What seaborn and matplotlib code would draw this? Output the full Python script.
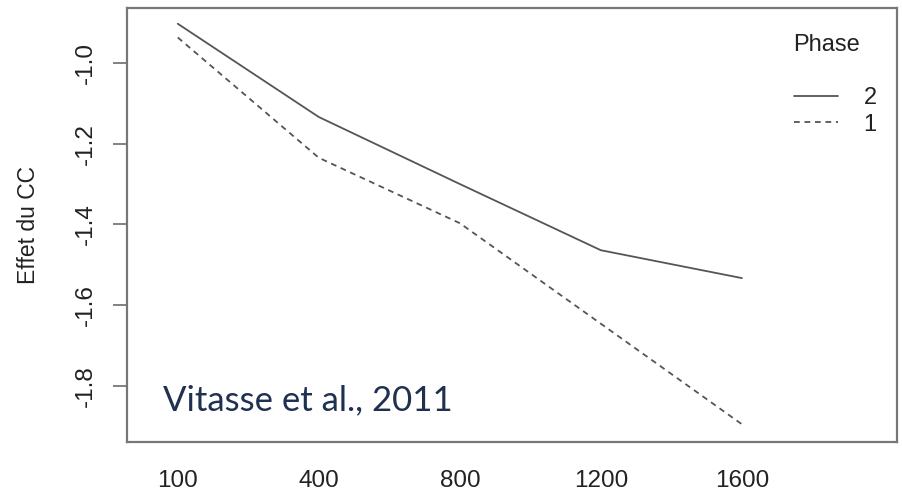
import matplotlib
matplotlib.use("Agg")
import matplotlib.pyplot as plt
from matplotlib.lines import Line2D
import seaborn as sns
import pandas as pd
import numpy as np

# altitude classes (categorical x) and effect of climate change per phase
altitudes = ["100", "400", "800", "1200", "1600"]
phase2 = [-0.903, -1.134, -1.300, -1.464, -1.533]
phase1 = [-0.937, -1.235, -1.397, -1.646, -1.895]
phases = ["2", "1"]
yticks = [-1.0, -1.2, -1.4, -1.6, -1.8]

pos = np.arange(len(altitudes))
df = pd.DataFrame({
    "pos": np.concatenate([pos, pos]),
    "effet": phase2 + phase1,
    "Phase": ["2"] * len(altitudes) + ["1"] * len(altitudes),
})

sns.set_theme(style="white")
plt.rcParams["font.family"] = ["Liberation Sans", "DejaVu Sans"]

fig = plt.figure(figsize=(9.03, 5.03), dpi=100)
ax = fig.add_axes([127 / 903, 1 - 442 / 503, 770 / 903, 434 / 503])

line_col = "#555555"
txt_col = "#222222"
sns.lineplot(data=df, x="pos", y="effet", style="Phase", style_order=phases,
             dashes={"2": "", "1": (3.2, 2.6)}, color=line_col,
             linewidth=1.3, ax=ax, legend=False)

ax.set_xlim(-0.36, 5.1)
ax.set_ylim(-1.939, -0.864)
ax.set_xticks(pos)
ax.set_xticklabels(altitudes)
ax.set_yticks(yticks)
ax.set_yticklabels([f"{v:.1f}" for v in yticks], rotation=90, va="center")
ax.tick_params(axis="x", length=0, pad=20, labelsize=17.5, labelcolor=txt_col)
ax.tick_params(axis="y", length=10, width=1.3, color="#777777", pad=12,
               labelsize=17.5, labelcolor=txt_col, left=True)
ax.set_xlabel("")
ax.set_ylabel("Effet du CC", fontsize=16.5, color=txt_col, labelpad=25)
for sp in ax.spines.values():
    sp.set_visible(True)
    sp.set_color("#777777")
    sp.set_linewidth(1.6)

# legend like R interaction.plot
ax.text(793, 503 - 45, "Phase", transform=None, fontsize=17, color=txt_col,
        va="center", ha="left")
handles = [Line2D([], [], color=line_col, lw=1.3),
           Line2D([], [], color=line_col, lw=1.3, dashes=(3.2, 2.6))]
leg = ax.legend(handles, phases, frameon=False, fontsize=17,
                loc="upper left", bbox_to_anchor=(0.866, 0.818),
                handlelength=1.85, handletextpad=1.1, labelspacing=0.2,
                borderpad=0, borderaxespad=0)
for t in leg.get_texts():
    t.set_color(txt_col)

ax.text(163, 503 - 410, "Vitasse et al., 2011", transform=None, fontsize=25,
        color="#1f3050", family=["Lato", "DejaVu Sans"], va="baseline")

fig.savefig("out.png", dpi=100)
